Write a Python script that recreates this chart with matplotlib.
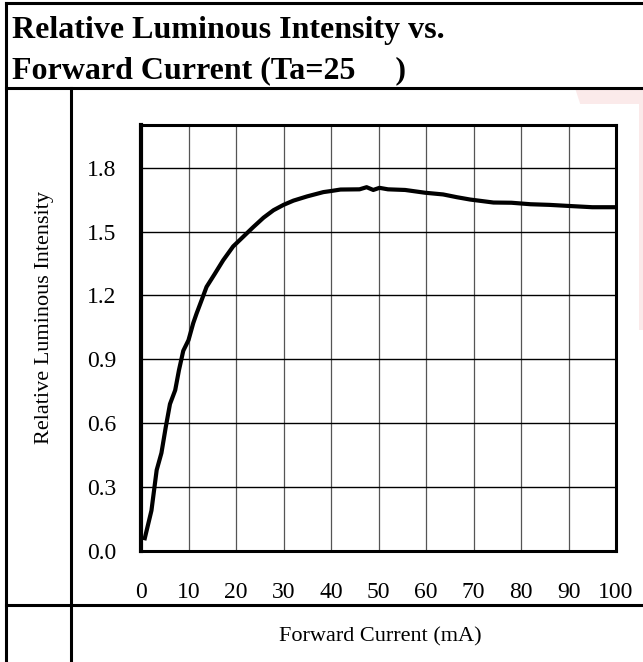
#!/usr/bin/env python3
"""
Relative luminous intensity vs forward current - datasheet style chart
"""

import matplotlib
matplotlib.use('Agg')
import matplotlib.pyplot as plt
from matplotlib.lines import Line2D
from matplotlib.patches import Polygon, Rectangle

# data
current_ma = [0.8, 2.2, 3.3, 4.3, 5.2, 6.1, 7.2, 8.0, 8.9, 10.0, 11.0, 11.7, 12.8,
              13.8, 15.5, 17.3, 19.4, 21.5, 23.6, 25.8, 27.9, 30.0, 32.1, 35.0,
              38.4, 40.0, 42.0, 46.0, 47.5, 48.9, 50.2, 52.0, 55.6, 59.8, 63.6,
              66.5, 69.3, 74.2, 78.0, 82.0, 86.0, 90.0, 95.0, 100.0]
rel_intensity = [0.06, 0.19, 0.38, 0.46, 0.58, 0.69, 0.755, 0.85, 0.94, 0.99, 1.07,
                 1.115, 1.18, 1.24, 1.30, 1.365, 1.43, 1.475, 1.52, 1.565, 1.60,
                 1.625, 1.645, 1.665, 1.685, 1.69, 1.697, 1.698, 1.708, 1.695,
                 1.705, 1.698, 1.695, 1.682, 1.674, 1.661, 1.65, 1.636, 1.635,
                 1.628, 1.625, 1.62, 1.614, 1.614]
x_ticks = [0, 10, 20, 30, 40, 50, 60, 70, 80, 90, 100]
y_ticks = [0.0, 0.3, 0.6, 0.9, 1.2, 1.5, 1.8]

W, H = 643, 662


def fx(x):
    return x / W


def fy(y):
    return 1 - y / H


plt.rcParams['font.family'] = ['Liberation Serif', 'DejaVu Serif']

fig = plt.figure(figsize=(W / 100, H / 100), dpi=100, facecolor='white')

# faint watermark on the right, mostly hidden behind the white chart area
fig.add_artist(Polygon([(fx(575), fy(88)), (fx(643), fy(88)), (fx(643), fy(330)),
                        (fx(630), fy(330)), (fx(605), fy(180))],
                       closed=True, transform=fig.transFigure, facecolor='#f4c4c4',
                       edgecolor='none', alpha=0.35, zorder=-3))
fig.add_artist(Rectangle((fx(72), fy(604)), fx(639) - fx(72), fy(104) - fy(604),
                         transform=fig.transFigure, facecolor='white',
                         edgecolor='none', zorder=-2))

# table frame
frame = [((6, 3), (643, 3)), ((6, 3), (6, 662)), ((6, 88), (643, 88)),
         ((71, 88), (71, 662)), ((6, 605), (643, 605))]
for (x0, y0), (x1, y1) in frame:
    fig.add_artist(Line2D([fx(x0), fx(x1)], [fy(y0), fy(y1)], transform=fig.transFigure,
                          color='black', linewidth=2.2, solid_capstyle='projecting', zorder=5))

# title
fig.text(fx(12), fy(38), 'Relative Luminous Intensity vs.', fontsize=23, fontweight='bold',
         ha='left', va='baseline')
fig.text(fx(12), fy(78), 'Forward Current (Ta=25     )', fontsize=23, fontweight='bold',
         ha='left', va='baseline')

ax = fig.add_axes([fx(141), fy(551), fx(616) - fx(141), fy(125) - fy(551)])
ax.plot(current_ma, rel_intensity, color='black', linewidth=3.0, solid_joinstyle='round',
        zorder=3)

ax.set_xlim(0, 100)
ax.set_ylim(0, 2.0)
ax.set_xticks(x_ticks)
ax.set_yticks(y_ticks)
ax.set_xticklabels([str(v) for v in x_ticks])
ax.set_yticklabels([f'{v:.1f}' for v in y_ticks])
ax.tick_params(axis='both', length=0, labelsize=17)
ax.tick_params(axis='x', pad=22)
ax.tick_params(axis='y', pad=18)

# grid
for v in x_ticks[1:-1]:
    ax.axvline(v, color='#555555', linewidth=0.9, zorder=1)
for v in y_ticks[1:]:
    ax.axhline(v, color='black', linewidth=1.0, zorder=1)

for side in ['top', 'right', 'bottom']:
    ax.spines[side].set_linewidth(2.2)
ax.spines['left'].set_linewidth(3.0)

# axis labels
fig.text(fx(45), fy(318), 'Relative Luminous Intensity', fontsize=16, rotation=90,
         ha='center', va='center')
fig.text(fx(380), fy(637), 'Forward Current (mA)', fontsize=16, ha='center', va='center')

plt.savefig('out.png', dpi=100, facecolor='white')
plt.close()
